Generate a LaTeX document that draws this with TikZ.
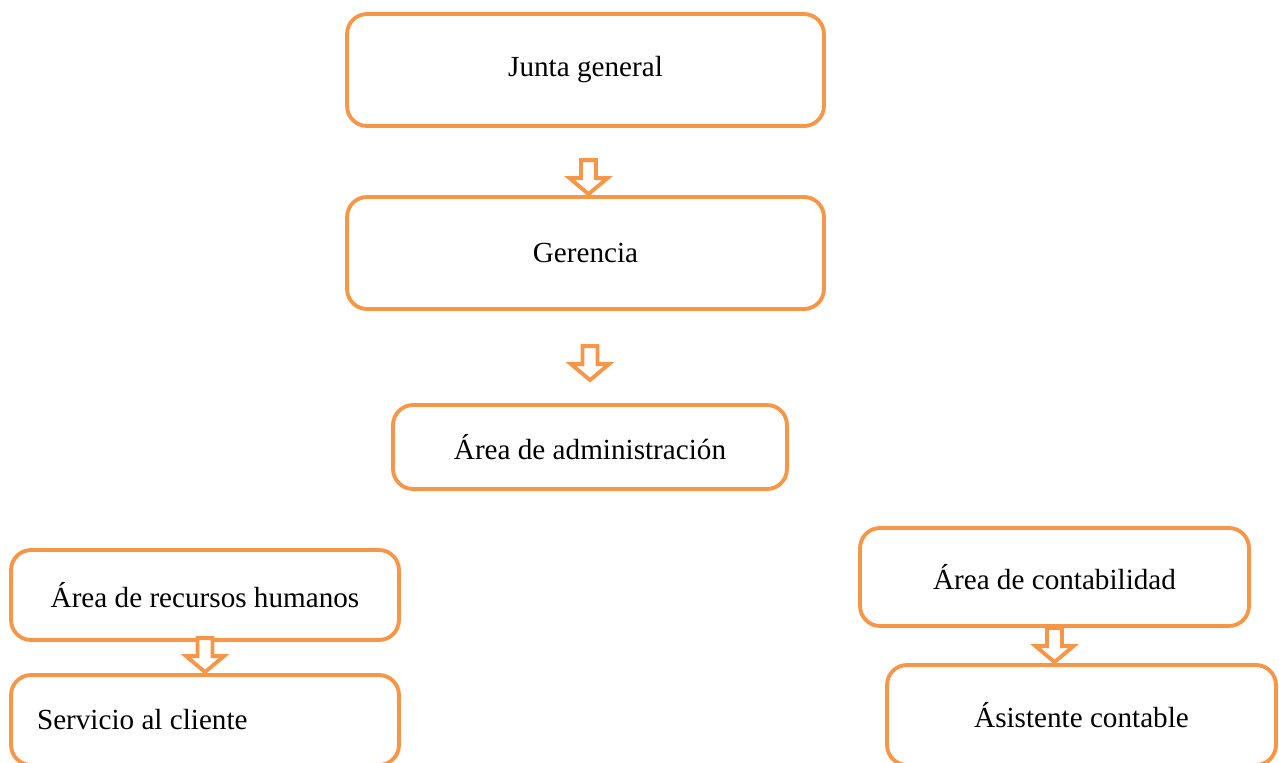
\documentclass[tikz,border=0pt]{standalone}
\usepackage{fontspec}
\setmainfont{Liberation Serif}
\usepackage{tikz}
\usetikzlibrary{positioning, calc}

\definecolor{naranja}{HTML}{F79646}
\tikzset{
  caja/.style={shape=rectangle, draw=naranja, line width=2.2pt, rounded corners=0.4cm,
    align=center, font=\fontsize{16.6}{19}\selectfont},
  flecha/.pic={\draw[naranja, line width=2.2pt, fill=white, line join=miter]
    (0,-1) -- (19,-17) -- (7.5,-17) -- (7.5,-35) -- (-7.5,-35) -- (-7.5,-17) -- (-19,-17) -- cycle;}
}

\begin{document}
\begin{tikzpicture}[x=0.02cm, y=-0.02cm]
\clip (0,0) rectangle (1279,762);
\node[caja, minimum width=9.54cm, minimum height=2.24cm] (junta) at (585.5,70) {Junta general};
\node[caja, minimum width=9.54cm, minimum height=2.24cm] (gerencia) at (585.5,253) {Gerencia};
\node[caja, minimum width=7.88cm, minimum height=1.68cm] (admin) at (590,447) {Área de administración};
\node[caja, minimum width=7.76cm, minimum height=1.8cm] (rrhh) at (205,595) {Área de recursos humanos};
\node[caja, minimum width=7.76cm, minimum height=1.8cm, text width=6.72cm, inner xsep=0.52cm, align=flush left] (servicio) at (205,720) {Servicio al cliente};
\node[caja, minimum width=7.78cm, minimum height=1.96cm] (contab) at (1054.5,577) {Área de contabilidad};
\node[caja, minimum width=7.78cm, minimum height=2cm] (asistente) at (1081.5,715) {Ásistente contable};

% flechas
\path ($(gerencia.north)+(3,0)$) pic {flecha};
\path ($(admin.north)+(0,-22)$) pic {flecha};
\path (servicio.north) pic {flecha};
\path (contab.south |- asistente.north) pic {flecha};
\end{tikzpicture}
\end{document}
